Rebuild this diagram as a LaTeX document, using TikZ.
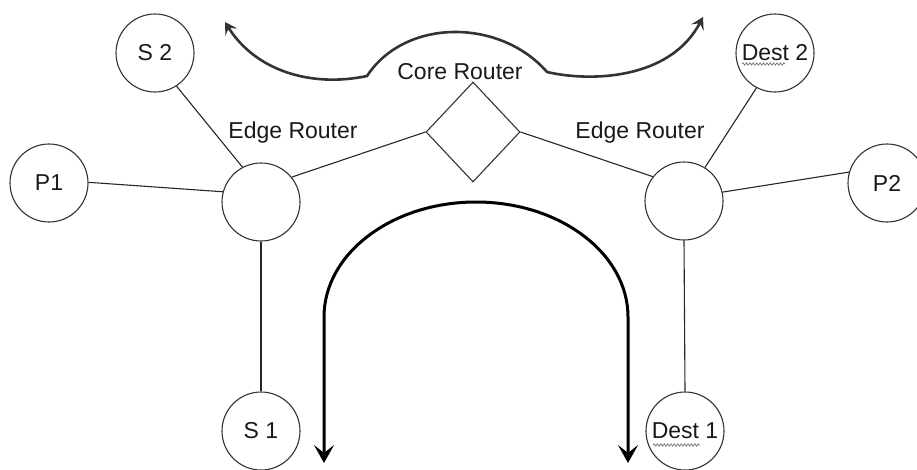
\documentclass[tikz,border=0pt]{standalone}
\usepackage{fontspec}
\setmainfont{Liberation Sans}
\usetikzlibrary{shapes.geometric,arrows.meta,decorations.pathmorphing}
\begin{document}
\begin{tikzpicture}[x=1pt,y=-1pt,
  hostnode/.style={circle,draw=black!80,line width=1.1pt,minimum size=78pt,inner sep=0pt,
    text=black!90,font=\fontsize{23}{26}\selectfont},
  corenode/.style={diamond,draw=black!80,line width=1.1pt,minimum width=94pt,minimum height=100pt,inner sep=0pt},
  caption/.style={inner sep=0pt,text=black!90,font=\fontsize{23}{26}\selectfont},
  link/.style={draw=black!85,line width=1.1pt},
  squiggle/.style={draw=black!55,line width=0.7pt,decorate,decoration={snake,amplitude=1.2pt,segment length=3.4pt}},
  wave/.style={draw=black!80,line width=2.6pt,
    {Stealth[length=12pt,width=14pt,inset=5pt]}-{Stealth[length=12pt,width=14pt,inset=5pt]}},
  detour/.style={draw=black,line width=3pt,
    {Stealth[length=18pt,width=20pt,inset=8pt]}-{Stealth[length=18pt,width=20pt,inset=8pt]}}
]
\useasboundingbox (0,0) rectangle (917,469);

% hosts and routers
\node[hostnode] (s2) at (155,53) {S 2};
\node[hostnode] (p1) at (49,183) {P1};
\node[hostnode] (er1) at (261,202) {};
\node[hostnode] (s1) at (261,431) {S 1};
\node[corenode] (core) at (473,132) {};
\node[hostnode] (er2) at (684,201) {};
\node[hostnode] (dest2) at (775,53) {Dest 2};
\node[hostnode] (p2) at (887,183) {P2};
\node[hostnode] (dest1) at (685,431) {Dest 1};

% captions
\node[caption] (corecap) at (460,72) {Core Router};
\node[caption] (er1cap) at (293,133) {Edge Router};
\node[caption] (er2cap) at (640,133) {Edge Router};

% links
\draw[link] (s2.-57) -- (er1.118);
\draw[link] (p1.1) -- (er1.165);
\draw[link] (er1.south) -- (s1.north);
\draw[link] (core.west) -- (er1.39);
\draw[link] (core.east) -- (er2.142);
\draw[link] (er2.58) -- (dest2.-118);
\draw[link] (er2.13) -- (p2.164);
\draw[link] (er2.south) -- (dest1.north);

% spelling squiggles under "Dest"
\draw[squiggle] ([xshift=-33pt,yshift=-11pt]dest2.center) -- ([xshift=10pt,yshift=-11pt]dest2.center);
\draw[squiggle] ([xshift=-32pt,yshift=-14pt]dest1.center) -- ([xshift=15pt,yshift=-14pt]dest1.center);

% wavy double arrow above the core
\coordinate (wl) at (225,22);
\coordinate (wa) at (367,76);
\coordinate (wb) at (547,72);
\coordinate (wr) at (703,17);
\draw[wave] (wl) .. controls (255,70) and (310,88) .. (wa)
  .. controls (405,18) and (500,18) .. (wb)
  .. controls (590,82) and (670,80) .. (wr);

% arched double arrow below the core
\coordinate (al) at (324,463);
\coordinate (ar) at (628,463);
\draw[detour] (al) -- (324,317) arc[start angle=180,end angle=360,x radius=152,y radius=115] -- (ar);
\end{tikzpicture}
\end{document}
